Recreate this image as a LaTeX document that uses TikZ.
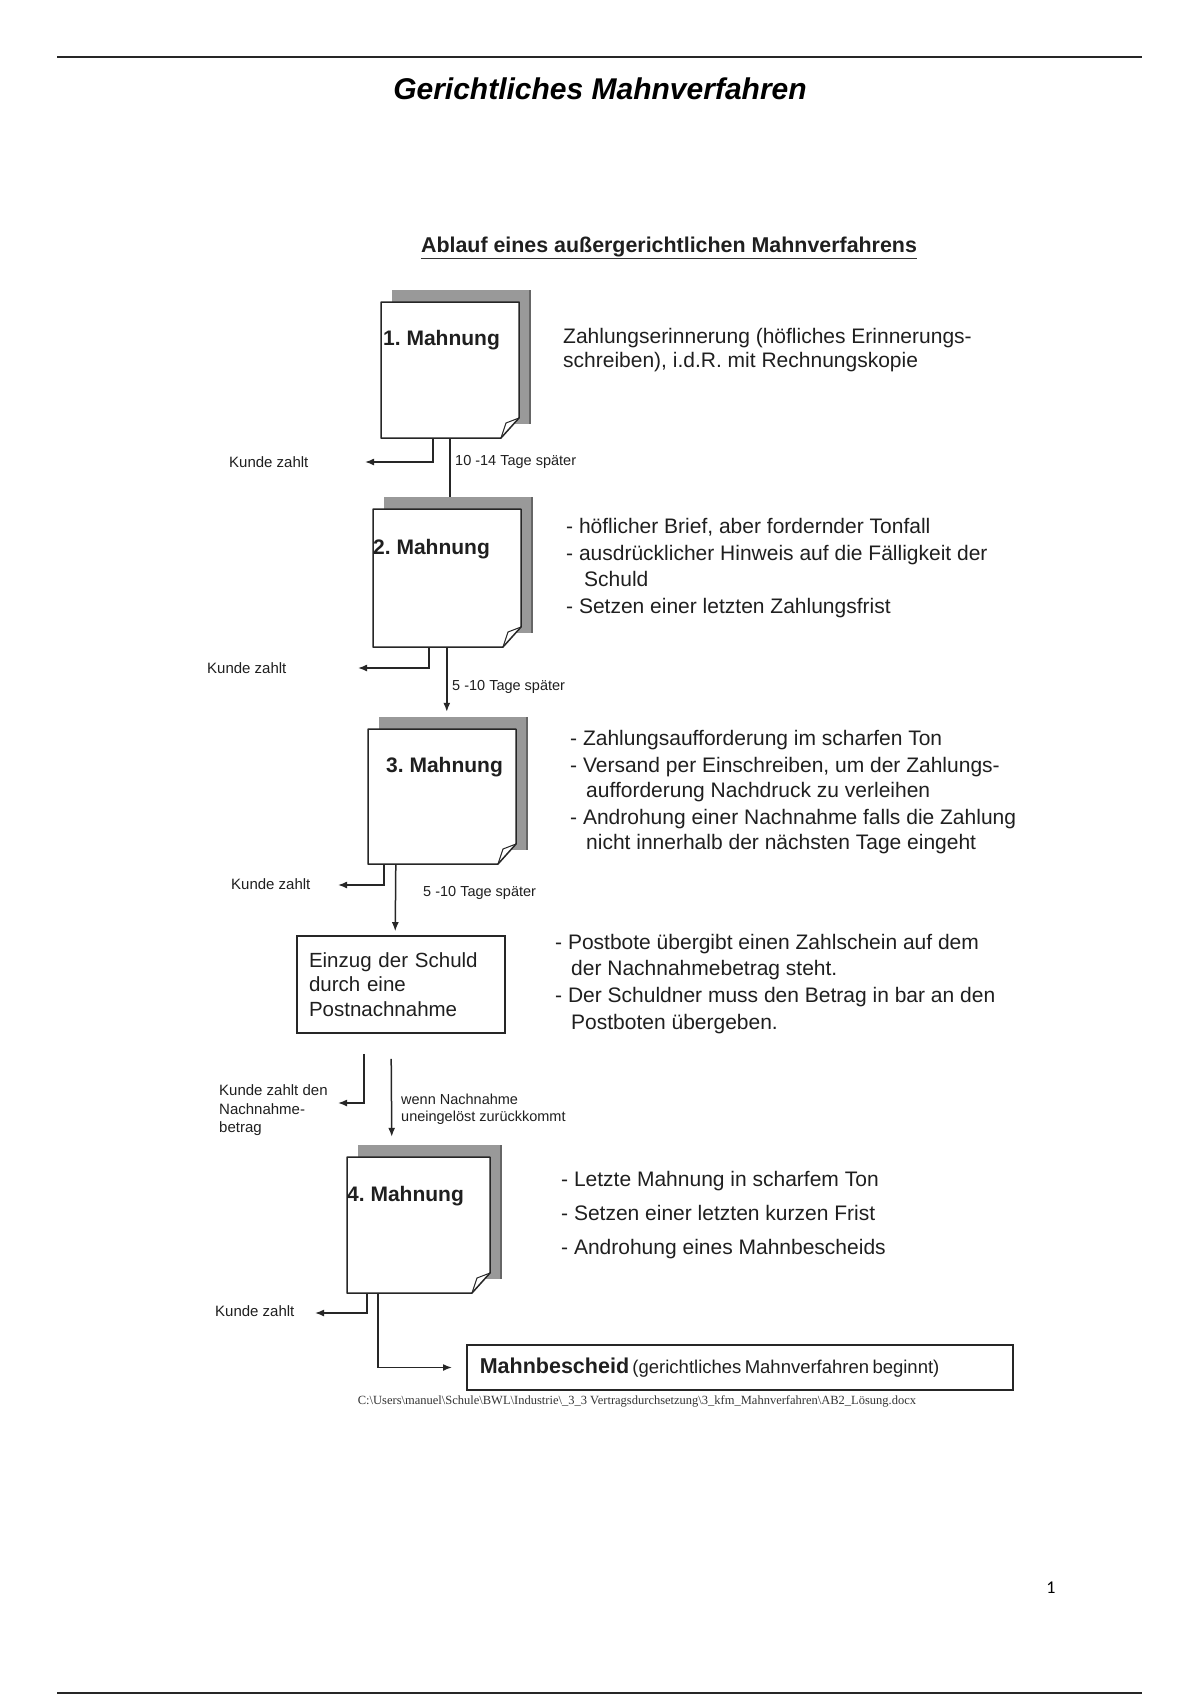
\documentclass[tikz,border=0pt]{standalone}
\usepackage{fontspec}
\setmainfont{Liberation Sans}
\newfontfamily\pathserif{Liberation Serif}
\newfontfamily\pagenumfont{Carlito}
\usetikzlibrary{fit,arrows.meta}

\newcommand\mahnpage[5]{%
  \fill[black!40] (#2+11,#3-12) rectangle (#4+11,#5-14);
  \draw[black!60, line width=1.2pt] (#4+11,#3-12) -- (#4+11,#5-14);
  \filldraw[fill=white, draw=black!85, line width=1.5pt, line join=round]
    (#2,#3) -- (#4,#3) -- (#4,#5-20) -- (#4-18,#5) -- (#2,#5) -- cycle;
  \draw[black!85, line width=1pt, line join=round] (#4,#5-20) -- (#4-13,#5-15) -- (#4-18,#5);
  \node[inner sep=0pt, fit={(#2,#3-12) (#4+11,#5)}] (#1) {};
}

\begin{document}
\begin{tikzpicture}[x=1pt,y=-1pt,
  rule/.style={line width=2pt, black!85},
  mlab/.style={anchor=west, inner sep=0pt, text=black!88, font=\fontsize{21}{25}\selectfont\bfseries, text height=15pt, text depth=4.5pt},
  desc/.style={anchor=west, inner sep=0pt, text=black!88, font=\fontsize{21}{25}\selectfont, text height=15pt, text depth=4.5pt},
  small/.style={anchor=west, inner sep=0pt, text=black!88, font=\fontsize{15}{18.5}\selectfont, align=left},
  tage/.style={anchor=west, inner sep=0pt, text=black!88, font=\fontsize{14.5}{17}\selectfont, align=left},
  conn/.style={line width=1.5pt, black!85},
  arr/.style={conn, -{Latex[length=9pt,width=7pt]}},
  boxed/.style={draw=black!85, line width=1.6pt, align=left, text=black!88}
]
\useasboundingbox (0,0) rectangle (1200,1700);

% page header and footer
\draw[rule] (57,57) -- (1142,57);
\node[font=\fontsize{30}{36}\selectfont\bfseries\itshape] (title) at (600,89) {Gerichtliches Mahnverfahren};
\draw[line width=1.5pt, black!85] (57,1693) -- (1142,1693);
\node[font=\pagenumfont\fontsize{18}{20}\selectfont] (pn) at (1051,1588) {1};

% subtitle
\node[inner sep=0pt, text=black!88, font=\fontsize{21.4}{25}\selectfont\bfseries] (sub) at (669,247) {Ablauf eines außergerichtlichen Mahnverfahrens};
\draw[line width=1.8pt, black!80] ([yshift=-6pt]sub.base west) -- ([yshift=-6pt]sub.base east);

% documents
\mahnpage{m1}{381}{302}{519}{438}
\mahnpage{m2}{373}{509}{521}{647}
\mahnpage{m3}{368}{729}{516}{864}
\mahnpage{m5}{347}{1157}{490}{1293}

\node[mlab] (m1t) at (383,340) {1.\ Mahnung};
\node[mlab] (m2t) at (373,549) {2.\ Mahnung};
\node[mlab] (m3t) at (386,767) {3.\ Mahnung};
\node[mlab] (m5t) at (347,1196) {4.\ Mahnung};

\node[boxed, minimum width=208pt, minimum height=97pt, text width=184pt, inner xsep=12pt,
      font=\fontsize{20.5}{24.5}\selectfont] (e) at (401,984.5) {Einzug der Schuld\\durch eine\\Postnachnahme};

\node[boxed, anchor=west, minimum height=45pt, text width=520pt, inner xsep=13pt] (mb) at (466,1367.5)
  {{\fontsize{21.5}{24}\selectfont\bfseries Mahnbescheid} {\fontsize{18.5}{22}\selectfont(gerichtliches Mahnverfahren beginnt)}};

% descriptions
\node[desc] (d1a) at (563,338) {Zahlungserinnerung (höfliches Erinnerungs-};
\node[desc] (d1b) at (563,362) {schreiben), i.d.R. mit Rechnungskopie};

\node[desc] (d2a) at (566,528) {- höflicher Brief, aber fordernder Tonfall};
\node[desc] (d2b) at (566,555) {- ausdrücklicher Hinweis auf die Fälligkeit der};
\node[desc] (d2c) at (584,581) {Schuld};
\node[desc] (d2d) at (566,608) {- Setzen einer letzten Zahlungsfrist};

\node[desc] (d3a) at (570,740) {- Zahlungsaufforderung im scharfen Ton};
\node[desc] (d3b) at (570,767.5) {- Versand per Einschreiben, um der Zahlungs-};
\node[desc] (d3c) at (586,792) {aufforderung Nachdruck zu verleihen};
\node[desc] (d3d) at (570,819.5) {- Androhung einer Nachnahme falls die Zahlung};
\node[desc] (d3e) at (586,844.5) {nicht innerhalb der nächsten Tage eingeht};

\node[desc] (d4a) at (555,944) {- Postbote übergibt einen Zahlschein auf dem};
\node[desc] (d4b) at (571,970) {der Nachnahmebetrag steht.};
\node[desc] (d4c) at (555,997) {- Der Schuldner muss den Betrag in bar an den};
\node[desc] (d4d) at (571,1024) {Postboten übergeben.};

\node[desc] (d5a) at (561,1181.5) {- Letzte Mahnung in scharfem Ton};
\node[desc] (d5b) at (561,1215) {- Setzen einer letzten kurzen Frist};
\node[desc] (d5c) at (561,1249) {- Androhung eines Mahnbescheids};

% side labels
\node[small] (k1) at (229,462) {Kunde zahlt};
\node[small] (k2) at (207,668) {Kunde zahlt};
\node[small] (k3) at (231,884) {Kunde zahlt};
\node[small] (k4) at (219,1110.5) {Kunde zahlt den\\Nachnahme-\\betrag};
\node[small] (k5) at (215,1311) {Kunde zahlt};

\node[tage] (t1) at (455,462) {10 -14 Tage später};
\node[tage] (t2) at (452,687) {5 -10 Tage später};
\node[tage] (t3) at (423,893) {5 -10 Tage später};
\node[tage] (t4) at (401,1109.5) {wenn Nachnahme\\uneingelöst zurückkommt};

\coordinate (k1tip) at (365,462);
\coordinate (k2tip) at (358,668);
\coordinate (k3tip) at (338,885);
\coordinate (k4tip) at (338,1103);
\coordinate (k5tip) at (315,1313);

% connectors
\draw[conn] ([xshift=69pt]m1.south west) -- ([xshift=77pt]m2.north west);
\draw[arr] ([xshift=52pt]m1.south west) |- (k1tip);
\draw[arr] ([xshift=56pt]m2.south west) |- (k2tip);
\draw[arr, shorten >=5pt] ([xshift=74pt]m2.south west) -- ([xshift=79pt]m3.north west);
\draw[arr] ([xshift=16pt]m3.south west) |- (k3tip);
\draw[arr, shorten >=4pt] ([xshift=28pt]m3.south west) -- ([xshift=99pt]e.north west);
\draw[arr] ([xshift=68pt,yshift=-20pt]e.south west) |- (k4tip);
\draw[arr, shorten >=8pt] ([xshift=95pt,yshift=-25pt]e.south west) -- ([xshift=45pt]m5.north west);
\draw[arr] ([xshift=20pt]m5.south west) |- (k5tip);
\draw[arr, shorten >=14pt] ([xshift=31pt]m5.south west) |- (mb.west);

% file path
\node[inner sep=0pt, text=black!80, font=\pathserif\fontsize{12.5}{15}\selectfont] (fp) at (637,1401)
  {C:\textbackslash Users\textbackslash manuel\textbackslash Schule\textbackslash BWL\textbackslash Industrie\textbackslash\_3\_3 Vertragsdurchsetzung\textbackslash 3\_kfm\_Mahnverfahren\textbackslash AB2\_Lösung.docx};
\end{tikzpicture}
\end{document}
